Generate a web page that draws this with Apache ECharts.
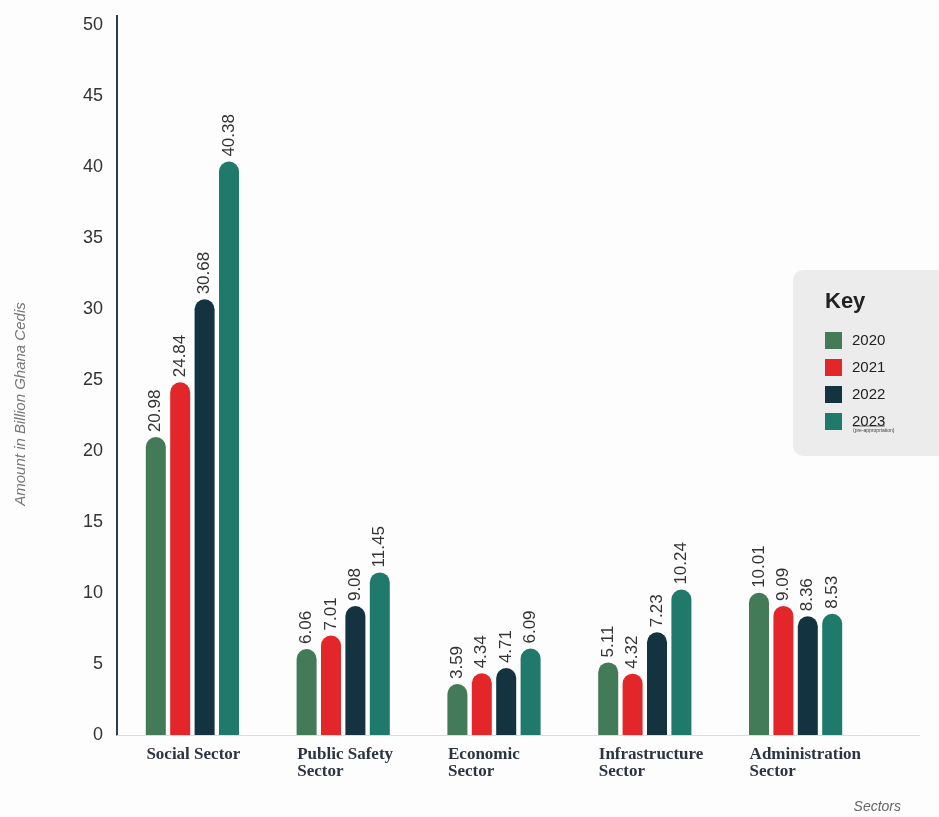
<!DOCTYPE html>
<html>
<head>
<meta charset="utf-8">
<script src="https://cdn.jsdelivr.net/npm/echarts@6/dist/echarts.min.js"></script>
<style>
html,body{margin:0;padding:0;background:#fdfdfd;}
#chart{width:939px;height:817px;}
</style>
</head>
<body>
<div id="chart"></div>
<script>
const categories = ['Social Sector', 'Public Safety\nSector', 'Economic\nSector', 'Infrastructure\nSector', 'Administration\nSector'];
const years = ['2020', '2021', '2022', '2023'];
const v2020 = [20.98, 6.06, 3.59, 5.11, 10.01];
const v2021 = [24.84, 7.01, 4.34, 4.32, 9.09];
const v2022 = [30.68, 9.08, 4.71, 7.23, 8.36];
const v2023 = [40.38, 11.45, 6.09, 10.24, 8.53];
const yTicks = [0, 5, 10, 15, 20, 25, 30, 35, 40, 45, 50];

const colors = ['#437a58', '#e3262a', '#12333f', '#1f7a6c'];
const seriesData = [v2020, v2021, v2022, v2023];

const chart = echarts.init(document.getElementById('chart'), null, {renderer: 'canvas'});

const series = years.map((y, i) => ({
  name: y,
  type: 'bar',
  data: seriesData[i],
  barWidth: 20,
  barGap: '22%',
  itemStyle: {color: colors[i], borderRadius: [10, 10, 0, 0]},
  label: {
    show: true,
    position: 'top',
    rotate: 90,
    align: 'left',
    verticalAlign: 'middle',
    distance: 5,
    fontFamily: 'Liberation Sans, Arial, sans-serif',
    fontSize: 17,
    color: '#333',
    formatter: p => p.value.toFixed(2)
  }
}));

chart.setOption({
  backgroundColor: '#fdfdfd',
  animation: false,
  color: colors,
  grid: {left: 117, right: 68, top: 25, bottom: 82, containLabel: false},
  legend: {
    orient: 'vertical',
    left: 820,
    top: 327,
    itemWidth: 17,
    itemHeight: 17,
    itemGap: 10,
    icon: 'rect',
    selectedMode: false,
    textStyle: {fontFamily: 'Liberation Sans, Arial, sans-serif', fontSize: 15, color: '#222', padding: [0, 0, 0, 5]},
    data: years
  },
  xAxis: {
    type: 'category',
    data: categories,
    axisLine: {show: true, lineStyle: {color: '#dcdcdc', width: 1}},
    axisTick: {show: false},
    axisLabel: {
      interval: 0,
      align: 'left',
      margin: 11,
      padding: [0, 0, 0, -46],
      fontFamily: 'Liberation Serif, DejaVu Serif, serif',
      fontWeight: 'bold',
      fontSize: 17,
      lineHeight: 17,
      color: '#2b3440'
    }
  },
  yAxis: {
    type: 'value',
    min: 0,
    max: 50,
    interval: 5,
    axisLine: {show: true, lineStyle: {color: '#2c3d4c', width: 2}},
    axisTick: {show: false},
    splitLine: {show: false},
    axisLabel: {
      margin: 14,
      fontFamily: 'Liberation Sans, Arial, sans-serif',
      fontSize: 18,
      color: '#333',
      formatter: v => yTicks.includes(v) ? String(v) : ''
    }
  },
  graphic: [
    {type: 'rect', left: 793, top: 270, z: -1, shape: {width: 160, height: 186, r: 10}, style: {fill: '#ececec'}},
    {type: 'text', left: 825, top: 291, style: {text: 'Key', fontFamily: 'Liberation Sans, Arial, sans-serif', fontWeight: 'bold', fontSize: 22, fill: '#222'}},
    {type: 'text', left: 853, top: 428, style: {text: '(pre-appropriation)', fontFamily: 'Liberation Sans, Arial, sans-serif', fontSize: 5, fill: '#444'}},
    {type: 'line', shape: {x1: 853, y1: 426, x2: 885, y2: 426}, style: {stroke: '#444', lineWidth: 0.8}},
    {type: 'line', shape: {x1: 871, y1: 735.5, x2: 920, y2: 735.5}, style: {stroke: '#dcdcdc', lineWidth: 1}},
    {type: 'line', shape: {x1: 117, y1: 15, x2: 117, y2: 26}, style: {stroke: '#2c3d4c', lineWidth: 2}},
    {type: 'text', x: 21, y: 404, rotation: Math.PI / 2, style: {text: 'Amount in Billion Ghana Cedis', align: 'center', verticalAlign: 'middle', fontFamily: 'Liberation Sans, Arial, sans-serif', fontStyle: 'italic', fontSize: 15, fill: '#777'}},
    {type: 'text', right: 38, top: 800, style: {text: 'Sectors', fontFamily: 'Liberation Sans, Arial, sans-serif', fontStyle: 'italic', fontSize: 14, fill: '#666'}}
  ],
  series: series
});
</script>
</body>
</html>
